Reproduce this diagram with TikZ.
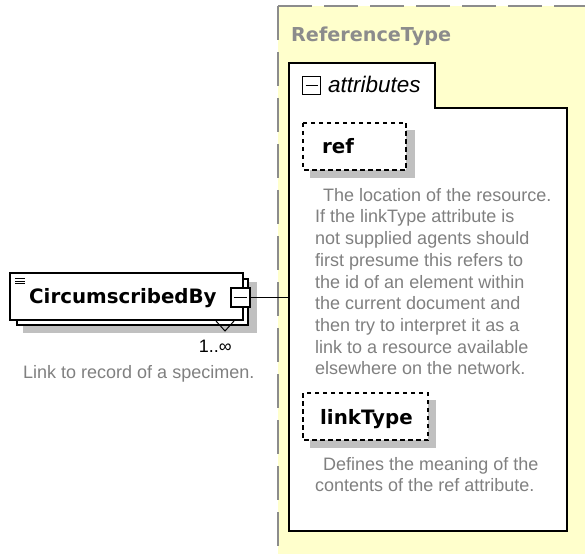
\documentclass[tikz,border=0pt]{standalone}
\usepackage{fontspec}
\setmainfont{Liberation Sans}
\newfontfamily\boxfont{DejaVu Sans}
\usetikzlibrary{positioning}
\definecolor{typefill}{RGB}{255,255,204}
\definecolor{typeline}{RGB}{140,140,140}
\definecolor{shadegray}{RGB}{192,192,192}
\definecolor{doctext}{RGB}{128,128,128}
\tikzset{
    boxline/.style={draw,fill=white,line width=1.2pt},
    attrline/.style={boxline,dash pattern=on 4.5pt off 3.5pt},
    shadow/.style={fill=shadegray},
    title/.style={anchor=base west,inner sep=0pt,font=\fontsize{19.8}{24}\boxfont\bfseries},
    doc/.style={anchor=north west,inner sep=0pt,align=left,text=doctext,font=\fontsize{18}{21.7}\selectfont}
}

\begin{document}
\begin{tikzpicture}[x=1pt,y=-1pt]
            \useasboundingbox (0,0) rectangle (585,553);
            \coordinate (TL) at (278,6);
            \fill[typefill] (TL) rectangle (590,560);
            \begin{scope}[typeline,line width=1.5pt,dash pattern=on 34pt off 12pt]
                \draw (TL) -- (278,560);
                \draw (TL) -- (590,6);
            \end{scope}
            \node[title,text=typeline,font=\fontsize{19.2}{24}\boxfont\bfseries] (typename) at (291,42) {ReferenceType};
            \coordinate (AL) at (289,108);
            \coordinate (AB) at (289,531);
            \draw[boxline] (AL) -- (289,63) -- (435,63) -- (435,108) -- (567,108) -- (567,531) -- (AB) -- cycle;
            \node[draw,line width=1pt,minimum size=18pt,inner sep=0pt] (attrminus) at (311.5,85.5) {};
            \draw[line width=1pt] ([xshift=3.5pt]attrminus.west) -- ([xshift=-3.5pt]attrminus.east);
            \node[title,font=\fontsize{22.5}{26}\selectfont\itshape] (attrs) at (328,93) {attributes};
            % ref
            \fill[shadow] (310,130) rectangle (415,178);
            \draw[attrline] (303,123) rectangle (406,170);
            \node[title] (ref) at (322,154) {ref};
            \node[doc] (refdoc) at (315,188) {\hspace*{8pt}The location of the resource.\\
                If the linkType attribute is\\
                not supplied agents should\\
                first presume this refers to\\
                the id of an element within\\
                the current document and\\
                then try to interpret it as a\\
                link to a resource available\\
                elsewhere on the network.};
            % linkType
            \fill[shadow] (310,400) rectangle (436,448);
            \draw[attrline] (303,393) rectangle (428,440);
            \node[title] (linktype) at (320,424) {linkType};
            \node[doc] (linkdoc) at (315,457) {\hspace*{8pt}Defines the meaning of the\\
                contents of the ref attribute.};
            % element
            \fill[shadow] (23,282) rectangle (257,333);
            \draw[boxline] (17,279) rectangle (248,325);
            \draw[boxline] (10,273) rectangle (243,320);
            \draw[line width=0.9pt] (15,278.5) -- (25,278.5) (15,281) -- (25,281) (15,283.5) -- (25,283.5);
            \node[title] (elem) at (29,303) {CircumscribedBy};
            \draw[line width=1pt] (216,321) -- (225,331) -- (234,321);
            \node[draw,fill=white,line width=1.2pt,minimum size=19pt,inner sep=0pt] (elemminus) at (240.5,297.5) {};
            \draw[line width=1pt] ([xshift=3.5pt]elemminus.west) -- ([xshift=-3.5pt]elemminus.east);
            \coordinate (attrin) at (AL |- elemminus.east);
            \draw[line width=1pt] (elemminus.east) -- (attrin);
            \node[anchor=base east,inner sep=0pt,font=\fontsize{18}{21}\selectfont] (occurs) at (232,352) {1..∞};
            \node[doc,anchor=base west,text=doctext] (elemdoc) at (23,378) {Link to record of a specimen.};
        \end{tikzpicture}
\end{document}
